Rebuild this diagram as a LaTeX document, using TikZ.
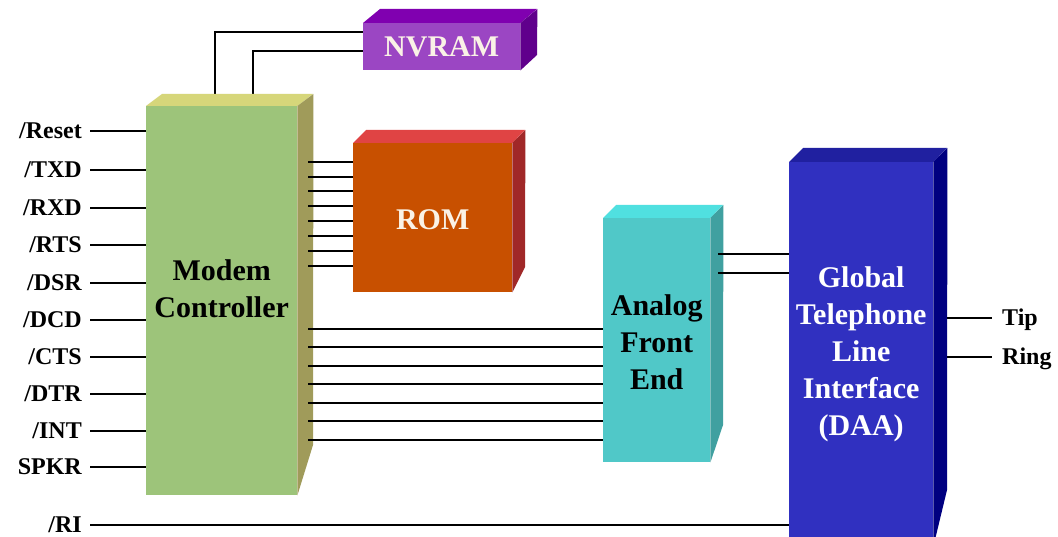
\documentclass[tikz,border=0pt]{standalone}
\usepackage{fontspec}
\setmainfont{Liberation Serif}
\usetikzlibrary{calc}
\pgfdeclarelayer{bg}
\pgfdeclarelayer{wirelayer}
\pgfsetlayers{bg,wirelayer,main}
\definecolor{ctrlF}{RGB}{157,196,122}
\definecolor{ctrlT}{RGB}{214,214,122}
\definecolor{ctrlS}{RGB}{160,155,90}
\definecolor{nvramF}{RGB}{155,70,195}
\definecolor{nvramT}{RGB}{128,0,176}
\definecolor{nvramS}{RGB}{96,0,140}
\definecolor{romF}{RGB}{200,80,0}
\definecolor{romT}{RGB}{224,68,68}
\definecolor{romS}{RGB}{160,40,40}
\definecolor{afeF}{RGB}{80,200,200}
\definecolor{afeT}{RGB}{80,224,224}
\definecolor{afeS}{RGB}{64,160,160}
\definecolor{daaF}{RGB}{48,48,192}
\definecolor{daaT}{RGB}{32,32,160}
\definecolor{daaS}{RGB}{0,0,128}
\definecolor{paleT}{RGB}{250,242,230}
% #1 name, #2 x1, #3 y1, #4 x2, #5 y2, #6 dx, #7 dy, #8 y where side edge ends
\newcommand\mybox[8]{%
  \node[fill=#1F, inner sep=0pt, minimum width={#4pt-#2pt}, minimum height={#5pt-#3pt}, anchor=north west] (#1) at (#2,#3) {};
  \fill[#1T] (#1.north west) -- ++(#6,#7) -- ++({#4-#2},0) -- (#1.north east) -- cycle;
  \fill[#1S] (#1.north east) -- ++(#6,#7) -- ({#4+#6},#8) -- (#1.south east) -- cycle;
}
\tikzset{
  wire/.style={line width=1.6pt, black},
  lab/.style={font=\bfseries\fontsize{24}{28}\selectfont, inner sep=0pt, text height=15.5pt, text depth=0pt, anchor=east},
  rlab/.style={font=\bfseries\fontsize{24}{28}\selectfont, inner sep=0pt, text height=15.5pt, text depth=0pt, anchor=west},
  big/.style={font=\bfseries\fontsize{30}{37}\selectfont, align=center, inner sep=0pt},
}
\begin{document}
\begin{tikzpicture}[x=1pt,y=-1pt]
\begin{pgfonlayer}{bg}
  \fill[white] (0,0) rectangle (1058,537);
\end{pgfonlayer}
\useasboundingbox (0,0) rectangle (1058,537);

% boxes
\mybox{ctrl}{146}{106}{297}{495}{16}{-12}{445}
\mybox{nvram}{363}{23}{520}{70}{17}{-14}{55}
\mybox{rom}{353}{143}{512}{292}{13}{-13}{267}
\mybox{afe}{603}{218}{710}{462}{13}{-13}{425}
\mybox{daa}{789}{162}{933}{546}{14}{-14}{490}

% texts
\node[big] (ctrltxt) at ([yshift=11.5pt]ctrl.center) {Modem\\Controller};
\node[big, text=paleT] (nvramtxt) at (nvram.center) {NVRAM};
\node[big, text=paleT] (romtxt) at ([yshift=-2pt]rom.center) {ROM};
\node[big] (afetxt) at ([yshift=-2pt]afe.center) {Analog\\Front\\End};
\node[big, text=white] (daatxt) at (daa.center) {Global\\Telephone\\Line\\Interface\\(DAA)};

% NVRAM wires (behind controller top)
\begin{pgfonlayer}{wirelayer}
  \draw[wire] (ctrl.north -| 215,0) |- (nvram.west |- 0,32);
  \draw[wire] (ctrl.north -| 253,0) |- (nvram.west |- 0,51);
\end{pgfonlayer}

% ROM bus
\foreach \y in {162,177,191,206,221,236,251,266}
  \draw[wire] (ctrl.east |- 0,\y) ++(11,0) -- (rom.west |- 0,\y);

% AFE bus
\foreach \y in {329,347,366,384,403,421,440}
  \draw[wire] (ctrl.east |- 0,\y) ++(11,0) -- (afe.west |- 0,\y);

% AFE to DAA
\foreach \y in {254,273}
  \draw[wire] (afe.east |- 0,\y) ++(8,0) -- (daa.west |- 0,\y);

% left labels
\foreach \nm/\txt/\y in {lreset/{/Reset}/131, ltxd/{/TXD}/170, lrxd/{/RXD}/208, lrts/{/RTS}/245, ldsr/{/DSR}/283, ldcd/{/DCD}/320, lcts/{/CTS}/357, ldtr/{/DTR}/394, lint/{/INT}/431, lspkr/{SPKR}/467}{
  \node[lab] (\nm) at (82,\y) {\txt};
  \draw[wire] ([xshift=8pt]\nm.east) -- (\nm.east -| ctrl.west);
}
\node[lab] (lri) at (82,525) {/RI};
\draw[wire] ([xshift=8pt]lri.east) -- (lri.east -| daa.west);

% right labels
\node[rlab] (tip) at (1002,318) {Tip};
\node[rlab] (ring) at (1002,357) {Ring};
\draw[wire] (daa.east |- tip) ++(14,0) -- ([xshift=-10pt]tip.west);
\draw[wire] (daa.east |- ring) ++(14,0) -- ([xshift=-10pt]ring.west);
\end{tikzpicture}
\end{document}
